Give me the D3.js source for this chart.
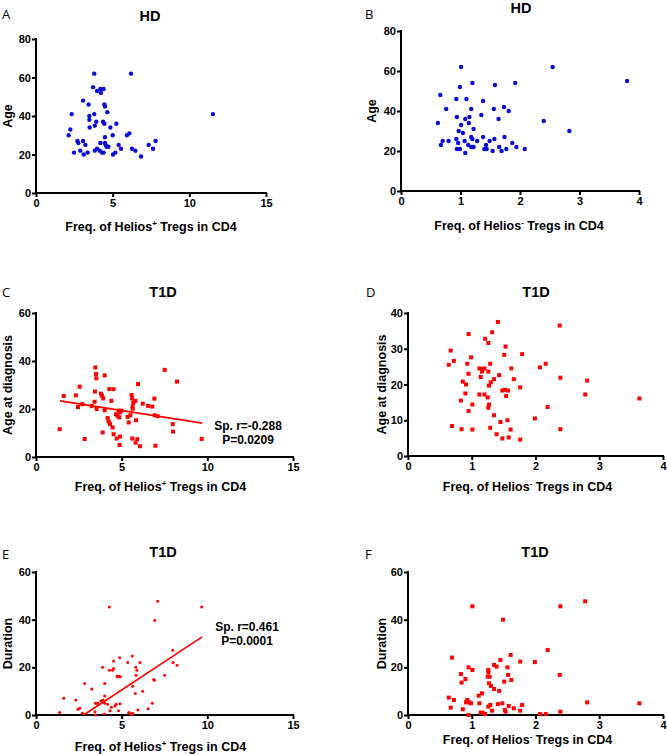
<!DOCTYPE html>
<html><head><meta charset="utf-8">
<script src="https://cdn.jsdelivr.net/npm/d3@7"></script>
<style>
body{margin:0;background:#fff}
text{font-family:"Liberation Sans",Arial,sans-serif}
</style>
</head><body>
<svg id="chart" width="667" height="754"></svg>
<script>
// ---------------- DATA ----------------
// Panel A: HD, Helios+ Tregs vs Age
const aX = [2.13,2.24,2.33,2.48,2.7,2.76,2.89,3.07,3.07,3.11,3.22,3.37,3.43,3.48,3.48,3.5,3.72,3.8,3.8,3.83,3.83,3.93,3.98,3.98,4.15,4.2,4.24,4.2,4.3,4.37,4.41,4.41,4.46,4.46,4.5,4.5,4.5,4.54,4.6,4.65,4.72,4.85,5.0,5.02,5.17,5.24,5.39,5.54,5.93,6.09,6.2,6.26,6.48,6.85,7.35,7.63,7.8,11.54];
const aY = [30,33,41,21,27,26,22,48,27,20,25,21,46,40,38,34,55,62,41,35,22,37,53,23,22,54,52,26,21,37,54,21,36,46,45,26,29,25,24,42,24,34,30,20,21,36,25,23,30,31,62,23,22,19,25,23,27,41];
// Panel B: HD, Helios- Tregs vs Age
const bX = [0.62,0.66,0.67,0.70,0.76,0.80,0.93,0.93,0.94,0.94,0.96,0.97,0.99,0.99,1.01,1.01,1.04,1.07,1.08,1.08,1.10,1.13,1.14,1.15,1.18,1.18,1.18,1.20,1.20,1.21,1.22,1.22,1.28,1.35,1.38,1.38,1.40,1.43,1.44,1.49,1.54,1.56,1.57,1.58,1.64,1.65,1.69,1.73,1.74,1.77,1.81,1.87,1.92,1.94,2.08,2.40,2.55,2.83,3.80];
const bY = [34,48,23,25,41,25,46,26,37,21,24,30,52,21,62,33,29,25,19,36,46,23,34,37,41,27,22,54,26,22,22,31,25,38,45,27,21,23,21,25,20,41,26,53,36,22,20,42,27,21,40,24,54,22,21,35,62,30,55];
// Panel C: T1D, Helios+ Tregs vs Age at diagnosis
const cX = [1.38,1.62,2.33,2.45,2.55,2.70,2.84,3.25,3.42,3.44,3.46,3.50,3.52,3.54,3.79,3.85,3.89,3.93,4.01,4.01,4.18,4.24,4.28,4.32,4.40,4.47,4.53,4.53,4.67,4.71,4.77,4.82,4.86,4.88,4.90,4.92,4.98,5.35,5.41,5.51,5.58,5.60,5.62,5.64,5.64,5.68,5.80,5.82,5.84,5.91,5.95,6.07,6.23,6.54,6.79,6.91,6.93,6.97,7.10,7.51,7.98,8.00,8.23,9.67];
const cY = [11.6,25.4,25.7,20.8,29.3,22.0,7.5,21.3,23.0,27.3,37.3,34.6,32.8,20.0,26.4,25.5,10.2,24.4,34.0,19.5,16.2,14.8,28.3,13.7,23.4,12.3,28.3,9.5,17.8,7.7,17.0,19.3,16.5,5.0,8.5,18.6,19.3,16.7,14.4,17.4,25.8,24.4,7.7,21.2,20.1,22.7,23.4,6.0,15.3,7.4,30.4,4.5,22.2,21.3,21.0,24.3,17.4,4.7,17.0,36.3,13.7,10.6,31.4,7.5];
const cFit = {x: [1.4, 9.7], y: [23.4, 14.1]};
const cStat = ["Sp. r=-0.288", "P=0.0209"];
// Panel D: T1D, Helios- Tregs vs Age at diagnosis
const dX = [0.64,0.67,0.69,0.72,0.83,0.84,0.86,0.90,0.91,0.93,0.95,0.95,0.95,0.99,1.01,1.01,1.12,1.12,1.14,1.16,1.17,1.20,1.20,1.21,1.25,1.26,1.26,1.26,1.27,1.27,1.29,1.29,1.30,1.32,1.35,1.35,1.39,1.41,1.43,1.45,1.48,1.48,1.51,1.52,1.53,1.54,1.56,1.57,1.58,1.61,1.62,1.66,1.76,1.76,1.79,1.99,2.07,2.16,2.19,2.38,2.39,2.39,2.78,2.81,3.63];
const dY = [25.5,29.5,8.4,26.6,15.5,7.5,20.8,17.5,20.0,25.8,23.0,34.1,12.6,27.6,7.4,14.4,24.5,17.2,22.1,23.6,24.3,24.5,17.2,32.8,16.4,31.6,13.5,23.6,14.4,19.7,7.9,25.8,20.6,34.6,21.5,11.4,6.1,37.5,22.6,9.5,18.3,4.9,28.3,18.5,30.6,16.8,10.0,18.3,5.2,7.4,24.5,21.5,19.2,4.6,28.5,10.5,24.8,25.8,13.7,36.5,21.9,7.5,17.2,21.1,16.1];
// Panel E: T1D, Helios+ Tregs vs Duration
const eX = [1.38,1.62,2.33,2.45,2.55,2.70,2.84,3.25,3.44,3.46,3.46,3.56,3.60,3.79,3.89,3.91,4.01,4.01,4.01,3.99,4.18,4.28,4.28,4.32,4.40,4.47,4.53,4.53,4.61,4.67,4.73,4.77,4.82,4.86,4.88,4.90,4.92,5.35,5.41,5.51,5.62,5.64,5.64,5.66,5.80,5.82,5.84,5.89,5.95,6.07,6.23,6.54,6.79,6.87,6.91,6.93,7.10,7.51,7.98,8.00,8.23,9.67];
const eY = [1.0,7.0,6.3,2.4,2.8,0.7,13.2,10.9,1.4,0.0,4.9,4.9,4.9,5.9,20.0,6.3,8.0,13.2,4.9,0.4,4.5,18.8,45.3,1.8,3.2,18.8,19.5,22.7,3.8,4.5,16.3,16.0,1.8,16.3,24.0,4.7,16.0,22.0,1.0,0.4,24.8,12.1,0.7,0.4,9.0,20.0,16.7,18.8,2.1,22.0,10.0,2.6,4.9,14.9,14.6,39.7,47.7,16.7,27.2,22.0,20.9,45.3];
const eFit = {x: [2.78, 9.7], y: [0, 32.8]};
const eStat = ["Sp. r=0.461", "P=0.0001"];
// Panel F: T1D, Helios- Tregs vs Duration
const fX = [0.64,0.67,0.69,0.72,0.83,0.84,0.86,0.90,0.91,0.93,0.95,0.95,0.96,0.99,1.01,1.01,1.11,1.12,1.14,1.16,1.17,1.20,1.21,1.25,1.26,1.26,1.26,1.27,1.28,1.29,1.30,1.32,1.35,1.35,1.39,1.41,1.43,1.45,1.48,1.49,1.51,1.52,1.53,1.56,1.57,1.58,1.61,1.62,1.66,1.76,1.76,1.79,1.99,2.07,2.16,2.19,2.38,2.39,2.39,2.78,2.81,3.63];
const fY = [7.3,3.1,24.1,6.3,17.2,13.6,2.4,15.1,5.3,6.3,0.0,20.0,5.3,4.9,18.9,45.6,8.1,4.9,1.0,9.1,1.0,0.4,0.4,16.1,18.9,3.5,18.0,13.3,16.1,4.2,12.2,1.8,10.9,21.0,20.3,4.6,10.1,23.1,4.9,40.0,14.0,2.1,1.4,20.0,16.8,3.8,25.2,14.7,2.8,22.4,1.8,4.2,22.2,0.4,0.4,27.3,16.8,45.6,1.4,47.7,5.3,4.9];

// Tick labels
const helPosTicks = [0, 5, 10, 15];
const helNegTicks = [0, 1, 2, 3, 4];
const ageTicks = [0, 20, 40, 60, 80];
const diagTicksC = [0, 20, 40, 60];
const diagTicksD = [0, 10, 20, 30, 40];
const durTicks = [0, 20, 40, 60];

// ---------------- DRAW ----------------
const svg = d3.select("#chart");
const BLUE = "#0b0bd6", RED = "#ff0000";
const fmt = d3.format("d");

function panel(o) {
  const g = svg.append("g");
  const x = d3.scaleLinear().domain([o.xTicks[0], o.xTicks[o.xTicks.length-1]]).range([o.l, o.r]);
  const y = d3.scaleLinear().domain([o.yTicks[0], o.yTicks[o.yTicks.length-1]]).range([o.b, o.t]);

  const xa = g.append("g").attr("transform", `translate(0,${o.b})`)
    .call(d3.axisBottom(x).tickValues(o.xTicks).tickFormat(fmt).tickSize(4).tickPadding(2).tickSizeOuter(0));
  const ya = g.append("g").attr("transform", `translate(${o.l},0)`)
    .call(d3.axisLeft(y).tickValues(o.yTicks).tickFormat(fmt).tickSize(4).tickPadding(1).tickSizeOuter(0));
  [xa, ya].forEach(a => {
    a.select(".domain").attr("stroke", "#000").attr("stroke-width", 2);
    a.selectAll(".tick line").attr("stroke", "#000").attr("stroke-width", 2);
    a.selectAll(".tick text").attr("fill", "#000").style("font-size", "11px").style("font-weight", "bold")
      .style("font-family", '"Liberation Sans", Arial, sans-serif');
  });
  xa.select(".domain").attr("d", `M${o.l-1},0H${o.r+1}`);
  ya.select(".domain").attr("d", `M0,${o.b+1}V${o.t-1}`);

  const pts = o.xs.map((v, i) => [v, o.ys[i]]);
  if (o.shape === "square") {
    g.append("g").selectAll("rect").data(pts).join("rect")
      .attr("x", d => x(d[0]) - 2).attr("y", d => y(d[1]) - 2)
      .attr("width", 4).attr("height", 4).attr("fill", o.color);
  } else {
    g.append("g").selectAll("circle").data(pts).join("circle")
      .attr("cx", d => x(d[0])).attr("cy", d => y(d[1]))
      .attr("r", o.r0).attr("fill", o.color);
  }
  if (o.fit) {
    g.append("line").attr("x1", x(o.fit.x[0])).attr("y1", y(o.fit.y[0]))
      .attr("x2", x(o.fit.x[1])).attr("y2", y(o.fit.y[1]))
      .attr("stroke", RED).attr("stroke-width", 1.6);
  }
  if (o.stat) {
    o.stat.forEach((s, i) => {
      g.append("text").attr("x", o.statX).attr("y", o.statY + i * 13.5)
        .attr("text-anchor", "middle").style("font-size", "12px").style("font-weight", "bold").text(s);
    });
  }
  g.append("text").attr("x", o.titleX).attr("y", o.titleY).attr("text-anchor", "middle")
    .style("font-size", "14.5px").style("font-weight", "bold").text(o.title);
  g.append("text").attr("x", o.letterX).attr("y", o.letterY)
    .style("font-size", "13px").style("font-family", '"Open Sans", "Noto Sans", sans-serif').text(o.letter);
  g.append("text").attr("transform", `translate(${o.ylabX},${(o.t + o.b) / 2}) rotate(-90)`)
    .attr("text-anchor", "middle").style("font-size", "12.5px").style("font-weight", "bold").text(o.ylab);
  const xl = g.append("text").attr("x", (o.l + o.r) / 2 + o.xlabDx).attr("y", o.xlabY)
    .attr("text-anchor", "middle").style("font-size", "12.5px").style("font-weight", "bold");
  xl.append("tspan").text("Freq. of Helios");
  xl.append("tspan").attr("dy", -5).style("font-size", "8px").text(o.sign);
  xl.append("tspan").attr("dy", 5).text(" Tregs in CD4");
}

panel({letter:"A", letterX:2, letterY:19, title:"HD", titleX:150, titleY:21,
  l:36, r:266, t:39, b:193, xTicks:helPosTicks, yTicks:ageTicks,
  xs:aX, ys:aY, color:BLUE, r0:2.2, ylab:"Age", ylabX:12, xlabY:231, xlabDx:0, sign:"+"});
panel({letter:"B", letterX:365, letterY:19, title:"HD", titleX:521, titleY:13,
  l:401, r:639, t:31, b:191, xTicks:helNegTicks, yTicks:ageTicks,
  xs:bX, ys:bY, color:BLUE, r0:2.2, ylab:"Age", ylabX:376, xlabY:230, xlabDx:-1, sign:"-"});
panel({letter:"C", letterX:2, letterY:297, title:"T1D", titleX:163, titleY:297,
  l:36, r:293, t:313, b:457, xTicks:helPosTicks, yTicks:diagTicksC,
  xs:cX, ys:cY, color:RED, shape:"square", fit:cFit, stat:cStat, statX:248, statY:430,
  ylab:"Age at diagnosis", ylabX:12, xlabY:491, xlabDx:-4, sign:"+"});
panel({letter:"D", letterX:366, letterY:297, title:"T1D", titleX:536, titleY:297,
  l:408, r:663, t:313, b:456, xTicks:helNegTicks, yTicks:diagTicksD,
  xs:dX, ys:dY, color:RED, shape:"square", ylab:"Age at diagnosis", ylabX:386, xlabY:491, xlabDx:-8, sign:"-"});
panel({letter:"E", letterX:2, letterY:559, title:"T1D", titleX:163, titleY:557,
  l:36, r:293, t:572, b:715, xTicks:helPosTicks, yTicks:durTicks,
  xs:eX, ys:eY, color:RED, r0:1.5, fit:eFit, stat:eStat, statX:247, statY:631,
  ylab:"Duration", ylabX:12, xlabY:751, xlabDx:-4, sign:"+"});
panel({letter:"F", letterX:365, letterY:559, title:"T1D", titleX:535, titleY:557,
  l:408, r:663, t:572, b:715, xTicks:helNegTicks, yTicks:durTicks,
  xs:fX, ys:fY, color:RED, shape:"square", ylab:"Duration", ylabX:386, xlabY:744, xlabDx:-8, sign:"-"});
</script>
</body></html>
